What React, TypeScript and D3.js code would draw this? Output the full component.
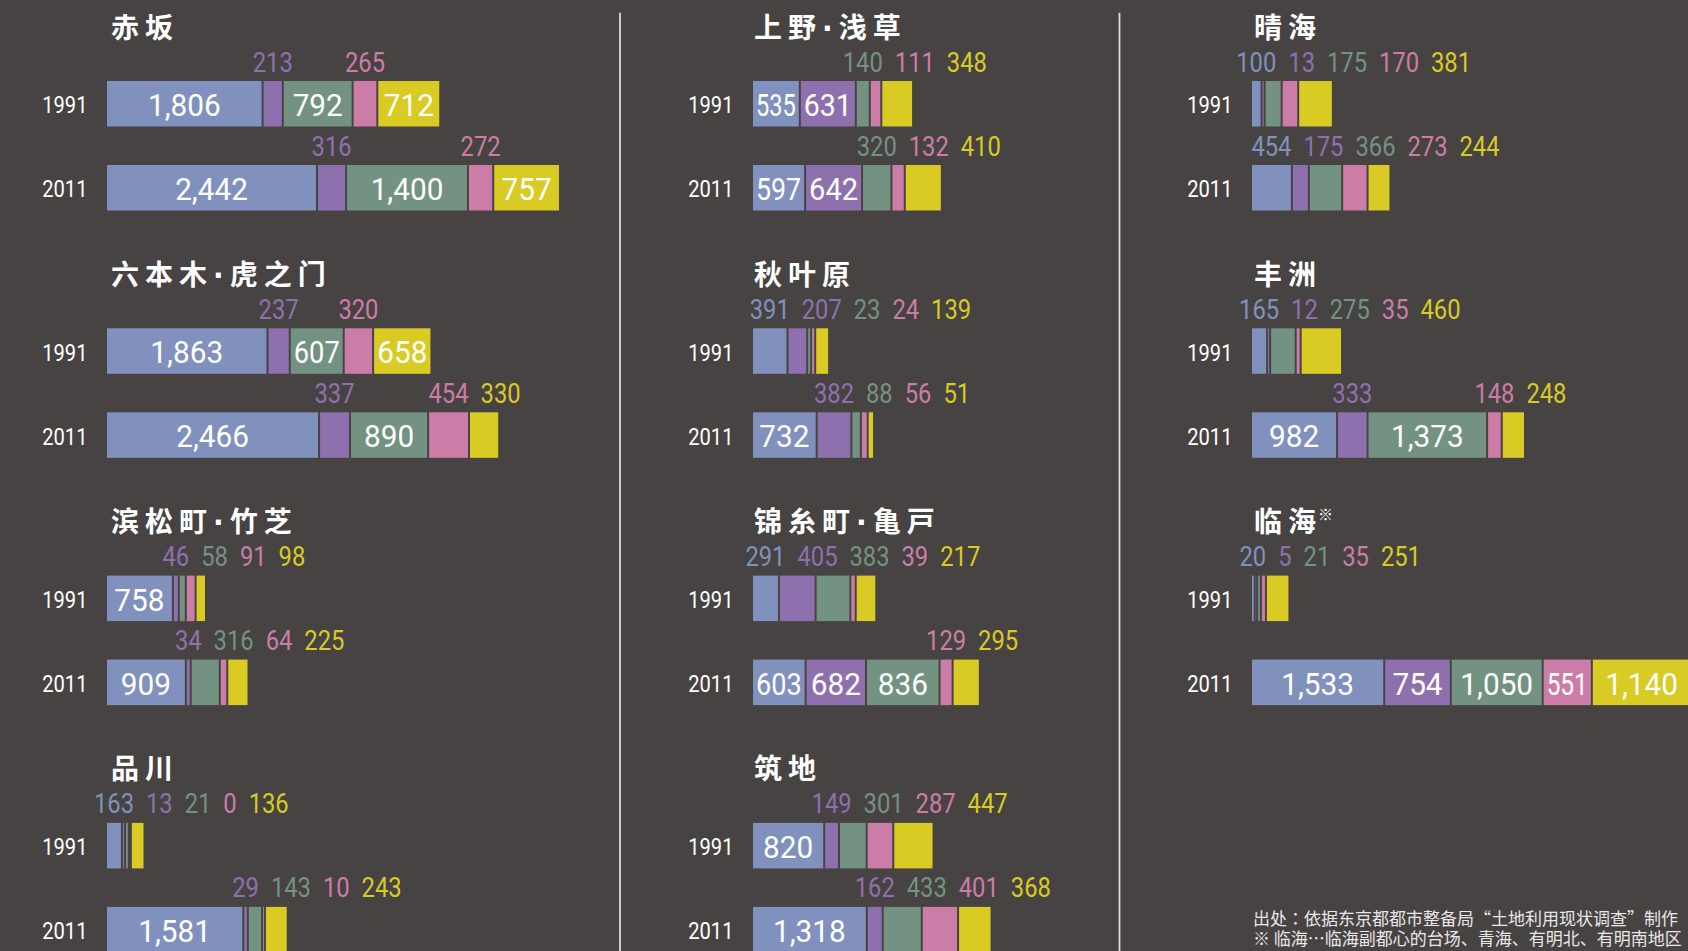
import React from "react";
import * as d3 from "d3";

// ---------- data ----------
const YEARS = ["1991", "2011"];
const SEGMENT_KEYS = ["a", "b", "c", "d", "e"];
const SEGMENT_COLORS = ["#8191bd", "#8f70ae", "#739282", "#cc7da7", "#d9cb24"];

const COLUMN_1 = ["赤坂", "六本木·虎之门", "滨松町·竹芝", "品川"];
const COLUMN_2 = ["上野·浅草", "秋叶原", "锦糸町·亀戸", "筑地"];
const COLUMN_3 = ["晴海", "丰洲", "临海"];

const AREAS = [...COLUMN_1, ...COLUMN_2, ...COLUMN_3];

const VALUES_1991 = [
  [1806, 213, 792, 265, 712],
  [1863, 237, 607, 320, 658],
  [758, 46, 58, 91, 98],
  [163, 13, 21, 0, 136],
  [535, 631, 140, 111, 348],
  [391, 207, 23, 24, 139],
  [291, 405, 383, 39, 217],
  [820, 149, 301, 287, 447],
  [100, 13, 175, 170, 381],
  [165, 12, 275, 35, 460],
  [20, 5, 21, 35, 251],
];

const VALUES_2011 = [
  [2442, 316, 1400, 272, 757],
  [2466, 337, 890, 454, 330],
  [909, 34, 316, 64, 225],
  [1581, 29, 143, 10, 243],
  [597, 642, 320, 132, 410],
  [732, 382, 88, 56, 51],
  [603, 682, 836, 129, 295],
  [1318, 162, 433, 401, 368],
  [454, 175, 366, 273, 244],
  [982, 333, 1373, 148, 248],
  [1533, 754, 1050, 551, 1140],
];

const NOTED_AREAS = ["临海"];
const FOOTNOTES = [
  "出处：依据东京都都市整备局“土地利用现状调查”制作",
  "※ 临海…临海副都心的台场、青海、有明北、有明南地区",
];

// ---------- layout ----------
const W = 1688;
const H = 951;
const BG = "#474342";
const COL_X = [107, 753, 1252];
const TITLE_X = [111, 754, 1254];
const SEPARATORS_X = [620, 1119.5];
const ROW0_TOP = 81;
const ROW_STEP = 247.3;
const YEAR_STEP = 84;
const BAR_H = 45.5;
const GAP = 2;
const INSIDE_MIN = 42;

const NUM_FONT = "Roboto, 'DejaVu Sans', sans-serif";
const CJK_FONT = "'Noto Sans CJK SC', 'Noto Sans CJK JP', sans-serif";
const JP_FONT = "'Noto Sans CJK JP', 'Noto Sans CJK SC', sans-serif";

const x = d3.scaleLinear().domain([0, 5000]).range([0, 428]);

const DIGIT_EM = 0.5615;
const COMMA_EM = 0.197;
function textWidthEm(s: string) {
  let w = 0;
  for (const ch of s) w += ch === "," ? COMMA_EM : DIGIT_EM;
  return w;
}
const fmt = d3.format(",");

const ABOVE_FS = 27;
const ABOVE_SX = 0.88;
const INSIDE_FS = 32;
const INSIDE_SX = 0.93;
const YEAR_FS = 24;
const YEAR_SX = 0.84;
const LABEL_GAP = 12;

function columnOf(area: string) {
  if (COLUMN_1.includes(area)) return { col: 0, row: COLUMN_1.indexOf(area) };
  if (COLUMN_2.includes(area)) return { col: 1, row: COLUMN_2.indexOf(area) };
  return { col: 2, row: COLUMN_3.indexOf(area) };
}

function Bar({ values, x0, top }: { values: number[]; x0: number; top: number }) {
  const stack = d3
    .stack<number[]>()
    .keys(SEGMENT_KEYS.map((_, i) => String(i)))
    .value((d, k) => d[+k]);
  const series = stack([values]);
  const segs = series.map((s, i) => {
    const [a, b] = s[0];
    const sx = x0 + x(a) + i * GAP;
    const w = x(b) - x(a);
    return { i, v: values[i], sx, w, cx: sx + w / 2 };
  });

  const above: { i: number; v: number; left: number; width: number }[] = [];
  let prevEnd = -Infinity;
  segs.forEach((s) => {
    if (s.w >= INSIDE_MIN) return;
    const label = String(s.v);
    const width = textWidthEm(label) * ABOVE_FS * ABOVE_SX;
    let left = s.cx - width / 2;
    if (left < prevEnd + LABEL_GAP) left = prevEnd + LABEL_GAP;
    above.push({ i: s.i, v: s.v, left, width });
    prevEnd = left + width;
  });

  return (
    <g>
      {segs.map((s) => (
        <rect
          key={"r" + s.i}
          x={s.sx}
          y={top}
          width={Math.max(0, s.w)}
          height={BAR_H}
          fill={SEGMENT_COLORS[s.i]}
        />
      ))}
      {segs
        .filter((s) => s.w >= INSIDE_MIN)
        .map((s) => {
          const label = fmt(s.v);
          const nat = textWidthEm(label) * INSIDE_FS;
          const sxScale = Math.min(INSIDE_SX, (s.w - 6) / nat);
          return (
            <text
              key={"t" + s.i}
              transform={`translate(${s.cx},${top + 35}) scale(${sxScale},1)`}
              textAnchor="middle"
              fontFamily={NUM_FONT}
              fontSize={INSIDE_FS}
              fill="#ffffff"
            >
              {label}
            </text>
          );
        })}
      {above.map((a) => (
        <text
          key={"a" + a.i}
          transform={`translate(${a.left + a.width / 2},${top - 9.5}) scale(${ABOVE_SX},1)`}
          textAnchor="middle"
          fontFamily={NUM_FONT}
          fontSize={ABOVE_FS}
          fill={SEGMENT_COLORS[a.i]}
        >
          {a.v}
        </text>
      ))}
    </g>
  );
}

function Title({ area, x0, y }: { area: string; x0: number; y: number }) {
  const parts = area.split("·");
  return (
    <text
      x={x0}
      y={y}
      fontFamily={CJK_FONT}
      fontWeight={700}
      fontSize={28}
      letterSpacing={6}
      fill="#ffffff"
    >
      {parts.map((p, i) => (
        <React.Fragment key={i}>
          {i > 0 ? <tspan fontFamily="'DejaVu Sans', sans-serif">·</tspan> : null}
          <tspan>{p}</tspan>
        </React.Fragment>
      ))}
      {NOTED_AREAS.includes(area) ? (
        <tspan fontSize={15} fontWeight={400} dy={-12} dx={-4}>
          ※
        </tspan>
      ) : null}
    </text>
  );
}

function Panel({ area, idx }: { area: string; idx: number }) {
  const { col, row } = columnOf(area);
  const x0 = COL_X[col];
  const baseTop = ROW0_TOP + row * ROW_STEP;
  const data = [VALUES_1991[idx], VALUES_2011[idx]];
  return (
    <g>
      <Title area={area} x0={TITLE_X[col]} y={baseTop - 43.5} />
      {YEARS.map((yr, yi) => {
        const top = baseTop + yi * YEAR_STEP;
        return (
          <g key={yr}>
            <text
              transform={`translate(${x0 - 19.5},${top + 32.4}) scale(${YEAR_SX},1)`}
              textAnchor="end"
              fontFamily={NUM_FONT}
              fontSize={YEAR_FS}
              fill="#ffffff"
            >
              {yr}
            </text>
            <Bar values={data[yi]} x0={x0} top={top} />
          </g>
        );
      })}
    </g>
  );
}

function Footnote({ text, y }: { text: string; y: number }) {
  // quotes drawn in the SC face so they take a full-width cell
  const pieces = text.split(/([“”])/).filter((p) => p.length > 0);
  return (
    <text x={1253} y={y} fontFamily={JP_FONT} fontSize={17} fill="#e8e8e8">
      {pieces.map((p, i) =>
        p === "“" || p === "”" ? (
          <tspan key={i} fontFamily="'Noto Sans CJK SC', sans-serif">
            {p}
          </tspan>
        ) : (
          <tspan key={i}>{p}</tspan>
        )
      )}
    </text>
  );
}

export default function App() {
  return (
    <svg
      width={W}
      height={H}
      viewBox={`0 0 ${W} ${H}`}
      style={{ position: "absolute", left: 0, top: 0, display: "block" }}
    >
      <rect x={0} y={0} width={W} height={H} fill={BG} />
      {SEPARATORS_X.map((sx) => (
        <line key={sx} x1={sx} x2={sx} y1={12.7} y2={H} stroke="#dcdcdc" strokeWidth={1.8} />
      ))}
      {AREAS.map((a, i) => (
        <Panel key={a} area={a} idx={i} />
      ))}
      {FOOTNOTES.map((t, i) => (
        <Footnote key={i} text={t} y={925 + i * 20} />
      ))}
    </svg>
  );
}
